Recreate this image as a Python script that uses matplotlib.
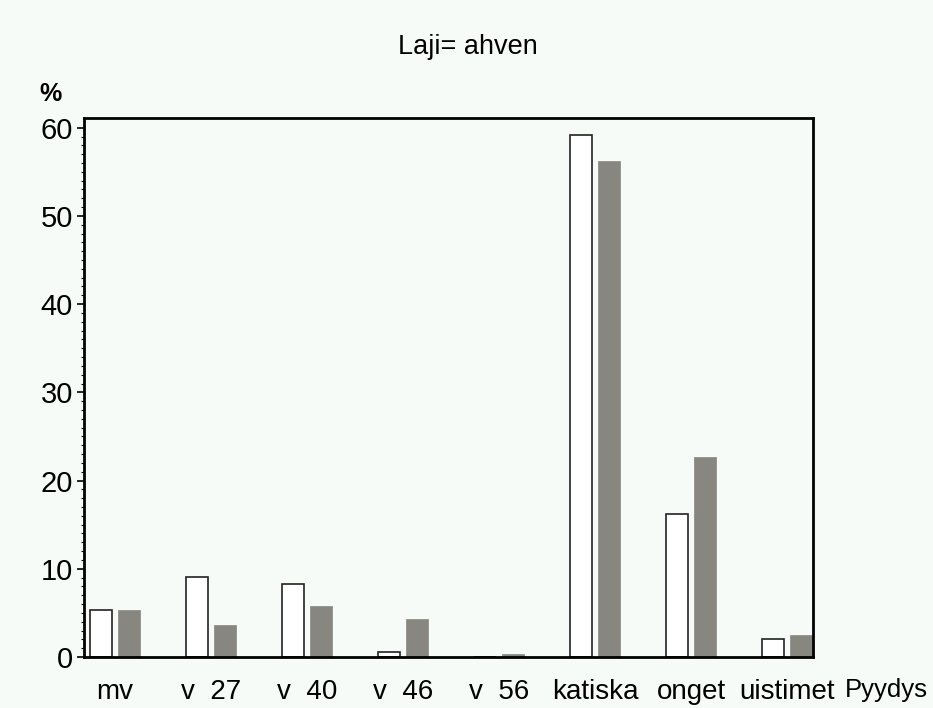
import matplotlib.pyplot as plt
import numpy as np

# pyydys categories and the two series (percent)
pyydys = ['mv', 'v  27', 'v  40', 'v  46', 'v  56', 'katiska', 'onget', 'uistimet']
valkoinen = [5.3, 9.1, 8.3, 0.55, 0.0, 59.2, 16.2, 2.0]
harmaa = [5.3, 3.6, 5.8, 4.3, 0.3, 56.2, 22.7, 2.5]

bg = '#f7fbf8'
plt.rcParams['font.family'] = ['Liberation Sans', 'DejaVu Sans']

fig = plt.figure(figsize=(9.33, 7.08), dpi=100, facecolor=bg)
ax = fig.add_axes([84/933, 51/708, 729/933, 539/708])
ax.set_facecolor(bg)

x = np.arange(len(pyydys))
w = 0.229
off = 0.146
ax.bar(x - off, valkoinen, w, facecolor='white', edgecolor='#222222', linewidth=1.2)
ax.bar(x + off, harmaa, w, facecolor='#87877f', edgecolor='#87877f', linewidth=0.5)

ax.set_xlim(-0.323, 7.27)
ax.set_ylim(0, 61.1)
ax.set_xticks(x)
ax.set_xticklabels(pyydys, fontsize=20)
ax.tick_params(axis='x', length=0, pad=16)
ax.set_yticks(range(0, 61, 10))
ax.set_yticks(range(0, 61, 1), minor=True)
ax.tick_params(axis='y', labelsize=21, length=5, width=1.2, direction='out', pad=3)
ax.tick_params(axis='y', which='minor', length=2, width=0.8)
for s in ax.spines.values():
    s.set_linewidth(2)

fig.text(468/933, 1 - 47/708, 'Laji= ahven', fontsize=19.5, ha='center', va='center')
fig.text(50/933, 1 - 94/708, '%', fontsize=18, fontweight='bold', ha='center', va='center')
fig.text(928/933, 1 - 690/708, 'Pyydys', fontsize=18.5, ha='right', va='center')

fig.savefig('out.png', dpi=100, facecolor=bg)
